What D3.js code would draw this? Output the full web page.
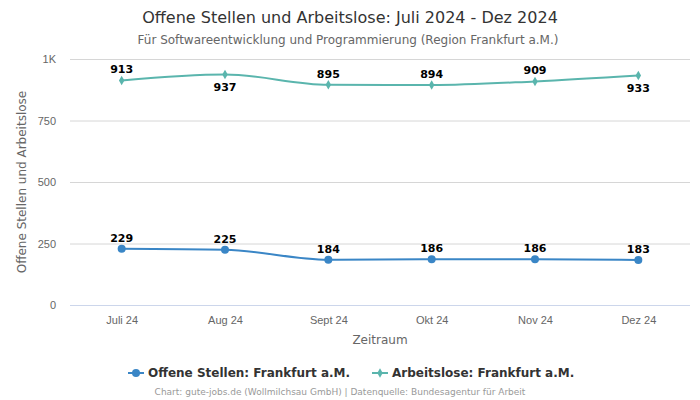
<!DOCTYPE html>
<html><head><meta charset="utf-8">
<script src="https://cdn.jsdelivr.net/npm/d3@7"></script>
<style>body{margin:0;background:#fff;} svg{display:block;font-family:"DejaVu Sans",sans-serif;}</style>
</head><body>
<svg id="c" width="700" height="400"></svg>
<script>
const categories = ["Juli 24","Aug 24","Sept 24","Okt 24","Nov 24","Dez 24"];
const offeneStellen = [229,225,184,186,186,183];
const arbeitslose = [913,937,895,894,909,933];
const yTicks = [0,250,500,750,1000];
const yTickLabels = ["0","250","500","750","1K"];
const seriesNames = ["Offene Stellen: Frankfurt a.M.","Arbeitslose: Frankfurt a.M."];
const colors = ["#3a86c6","#5ab5ad"];

const svg = d3.select("#c");
const m = {l:70, r:690, t:59, b:305};
const x = d3.scalePoint().domain(categories).range([m.l, m.r]).padding(0.5);
const y = d3.scaleLinear().domain([0,1000]).range([m.b, m.t]);

svg.append("text").attr("x",350).attr("y",22.5).attr("text-anchor","middle")
  .attr("font-size",16).attr("fill","#333").text("Offene Stellen und Arbeitslose: Juli 2024 - Dez 2024");
svg.append("text").attr("x",348).attr("y",44).attr("text-anchor","middle")
  .attr("font-size",12).attr("fill","#666").text("Für Softwareentwicklung und Programmierung (Region Frankfurt a.M.)");

// grid
const yAxis = d3.axisLeft(y).tickValues(yTicks).tickSize(-(m.r-m.l)).tickFormat((d,i)=>yTickLabels[i]);
const gy = svg.append("g").attr("transform",`translate(${m.l},0)`).call(yAxis);
gy.select(".domain").remove();
gy.selectAll(".tick line").attr("stroke","#d6d6d6");
gy.selectAll(".tick text").attr("x",-14).attr("font-size",11).attr("fill","#666");

const xAxis = d3.axisBottom(x).tickSize(0);
const gx = svg.append("g").attr("transform",`translate(0,${m.b})`).call(xAxis);
gx.select(".domain").attr("stroke","#ccd6eb").attr("d",`M${m.l},0.5H${m.r}`);
gx.selectAll(".tick text").attr("dy",0).attr("y",19).attr("font-size",11).attr("fill","#666");

svg.append("text").attr("x",380).attr("y",344).attr("text-anchor","middle")
  .attr("font-size",12).attr("fill","#666").text("Zeitraum");
svg.append("text").attr("transform",`translate(26,182) rotate(-90)`).attr("text-anchor","middle")
  .attr("font-size",12).attr("fill","#666").text("Offene Stellen und Arbeitslose");

const line = d3.line().x((d,i)=>x(categories[i])).y(d=>y(d)).curve(d3.curveMonotoneX);
const series = [offeneStellen, arbeitslose];
series.forEach((vals,si)=>{
  svg.append("path").datum(vals).attr("d",line).attr("fill","none")
    .attr("stroke",colors[si]).attr("stroke-width",2);
  const g = svg.append("g");
  vals.forEach((v,i)=>{
    const cx = x(categories[i]), cy = y(v);
    if(si===0) g.append("circle").attr("cx",cx).attr("cy",cy).attr("r",4).attr("fill",colors[si]);
    else g.append("path").attr("d",d3.symbol(d3.symbolDiamond,26)()).attr("transform",`translate(${cx},${cy})`).attr("fill",colors[si]);
    const below = cy - 18 < m.t;
    g.append("text").attr("x",cx).attr("y", below ? cy+17 : cy-7).attr("text-anchor","middle")
      .attr("font-size",11).attr("font-weight","bold").attr("fill","#000").text(v);
  });
});

// legend
const lg = svg.append("g");
const items = [{x:128, t:seriesNames[0]},{x:372, t:seriesNames[1]}];
items.forEach((it,si)=>{
  lg.append("line").attr("x1",it.x).attr("x2",it.x+16).attr("y1",373).attr("y2",373).attr("stroke",colors[si]).attr("stroke-width",2);
  if(si===0) lg.append("circle").attr("cx",it.x+8).attr("cy",373).attr("r",4).attr("fill",colors[si]);
  else lg.append("path").attr("d",d3.symbol(d3.symbolDiamond,26)()).attr("transform",`translate(${it.x+8},373)`).attr("fill",colors[si]);
  lg.append("text").attr("x",it.x+20).attr("y",377).attr("font-size",12).attr("font-weight","bold").attr("fill","#333").text(it.t);
});
svg.append("text").attr("x",340).attr("y",395).attr("text-anchor","middle")
  .attr("font-size",9).attr("fill","#999").text("Chart: gute-jobs.de (Wollmilchsau GmbH) | Datenquelle: Bundesagentur für Arbeit");
</script>
</body></html>
